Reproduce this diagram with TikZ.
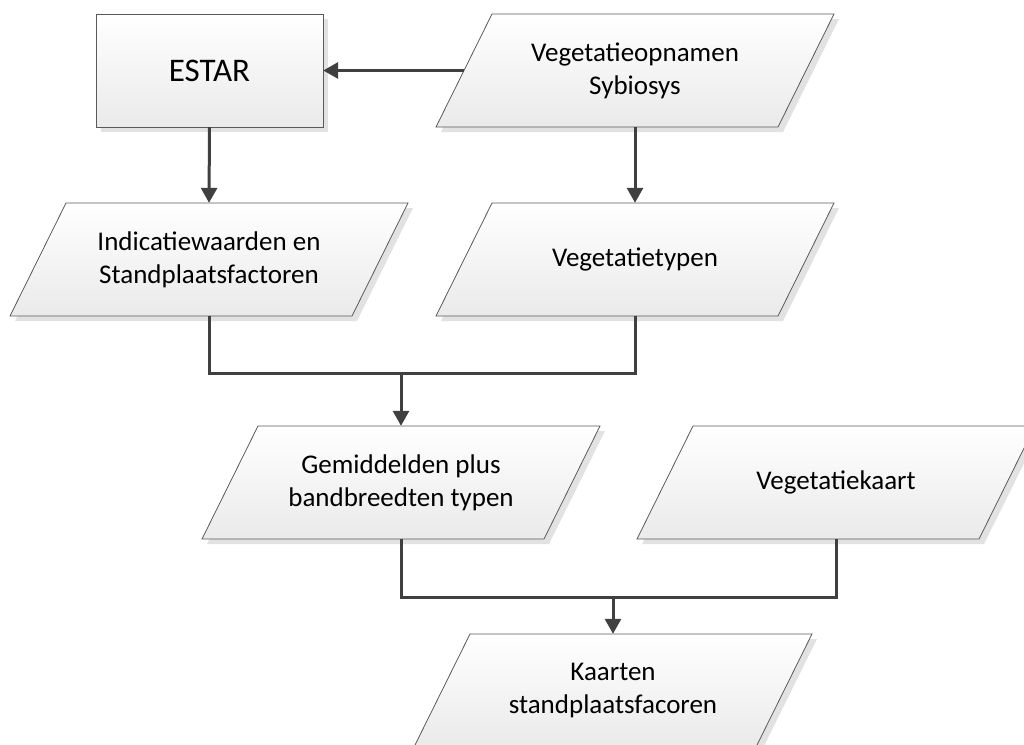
\documentclass[tikz,border=0pt]{standalone}
\usepackage{fontspec}
\setmainfont{Carlito}
\usetikzlibrary{arrows.meta,calc}
\definecolor{linec}{HTML}{404040}
\definecolor{edgec}{HTML}{5A5A5A}
\definecolor{shadowc}{HTML}{E2E2E2}
\definecolor{gradbot}{HTML}{EAEAEA}
\tikzset{
  boxtext/.style={inner sep=0pt, minimum width=342pt, minimum height=113pt, align=center,
    font=\fontsize{27}{33}\selectfont},
  shapefill/.style={draw=edgec, line width=0.8pt, top color=white, bottom color=gradbot},
  shadowfill/.style={fill=shadowc},
  conn/.style={draw=linec, line width=3pt},
  arr/.style={draw=linec, line width=3pt, -{Triangle[length=15pt,width=16pt]}},
}
% parallelogram: #1 name, #2 cx, #3 cy, #4 text
\newcommand{\pgram}[4]{%
  \fill[shadowfill] (#2-143+5,#3-56.5+5) -- (#2+199+5,#3-56.5+5) -- (#2+143+5,#3+56.5+5) -- (#2-199+5,#3+56.5+5) -- cycle;
  \path[shapefill] (#2-143,#3-56.5) -- (#2+199,#3-56.5) -- (#2+143,#3+56.5) -- (#2-199,#3+56.5) -- cycle;
  \node[boxtext] (#1) at (#2,#3) {#4};
}
\begin{document}
\begin{tikzpicture}[x=1pt,y=-1pt]
\useasboundingbox (0,0) rectangle (1024,744);
% ESTAR
\fill[shadowfill] (101,19) rectangle (328,132);
\path[shapefill] (96,14) rectangle (323,127);
\node[inner sep=0pt, minimum width=227pt, minimum height=113pt, font=\fontsize{33}{38}\selectfont] (estar) at (209.5,70.5) {ESTAR};
\pgram{vopn}{635}{70.5}{Vegetatieopnamen\\Sybiosys}
\pgram{ind}{209}{259.5}{Indicatiewaarden en\\Standplaatsfactoren}
\pgram{vtyp}{635}{259.5}{Vegetatietypen}
\pgram{gem}{401}{482.5}{Gemiddelden plus\\bandbreedten typen}
\pgram{vkaart}{836}{482.5}{Vegetatiekaart}
\pgram{kaart}{613}{690.5}{Kaarten\\standplaatsfacoren}
% connectors
\draw[arr] (vopn.west) -- (estar.east);
\draw[arr] (estar.south) -- (ind.north);
\draw[arr] (vopn.south) -- (vtyp.north);
\coordinate (j1) at (401,373);
\draw[conn] (ind.south) |- (j1) -| (vtyp.south);
\draw[arr] (j1) -- (gem.north);
\coordinate (j2) at (613,597);
\draw[conn] (gem.south) |- (j2) -| (vkaart.south);
\draw[arr] (j2) -- (kaart.north);
\end{tikzpicture}
\end{document}
